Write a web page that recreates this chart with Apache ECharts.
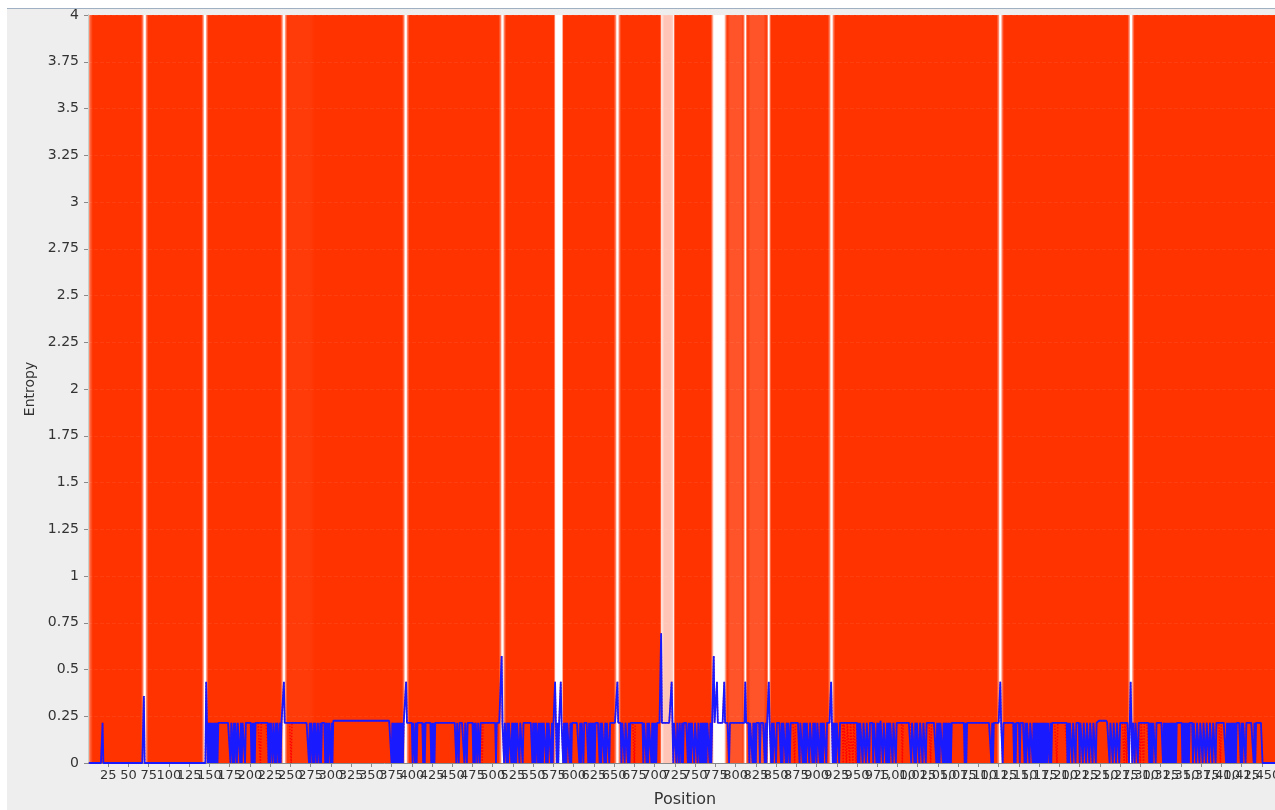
<!DOCTYPE html>
<html>
<head>
<meta charset="utf-8">
<script src="https://cdn.jsdelivr.net/npm/echarts@6/dist/echarts.min.js"></script>
<style>
html,body{margin:0;padding:0;background:#ffffff;}
#wrap{position:relative;width:1275px;height:810px;overflow:hidden;background:#ffffff;}
#panel{position:absolute;left:7px;top:8px;width:1268px;height:802px;background:#eeeeee;border-top:1px solid #9fb0c2;}
#c{position:absolute;left:0;top:0;width:1275px;height:810px;}
</style>
</head>
<body>
<div id="wrap"><div id="panel"></div><div id="c"></div></div>
<script>
// ---------------- data ----------------
const xTitle = 'Position';
const yTitle = 'Entropy';
const xMin = 0, xMax = 1475, xStep = 25;
const yMin = 0, yMax = 4, yStep = 0.25;

const lastPosition = 1475;          // positions plotted (picture is cut at ~1466)
const variableFrom = 147;           // base level starts after first spike
const variableTo = 1450;            // base level ends (zero afterwards)
const baseLevel = 0.215;
const raisedLevel = 0.226;

// isolated non-zero points in the leading zero region
const isolatedPoints = [[18, 0.215]];

// spikes [position, entropy]
const spikes = [
  [69, 0.358], [146, 0.434], [242, 0.434], [393, 0.434], [511, 0.572],
  [577, 0.434], [584, 0.434], [654, 0.434], [708, 0.694], [721, 0.434],
  [773, 0.572], [777, 0.434], [786, 0.434], [812, 0.434], [841, 0.434],
  [918, 0.434], [1127, 0.434], [1288, 0.434]
];

// runs at the slightly raised level [from, to]
const raisedRuns = [[303, 374], [978, 982], [1249, 1258]];

// positions where entropy falls to zero (blue line)
const dropsA = [148,150,152,154,156,158,160,176,179,181,184,188,190,194,202,204,206,223,225,228,231,233,236,238,
  273,275,278,280,283,286,288,293,295,297,300,302];
const dropsB = [375,377,379,381,383,385,387,389,401,404,406,414,416,424,426,428,455,458,465,468,476,478,481,484];
const dropsC = [504,514,517,519,523,525,527,529,533,537,549,551,553,556,558,560,562,566,568,572,574,579,581,587,589,
  591,595,597,607,609,612,618,620,622,624,626,632,634,638,640,644];
const dropsD = [659,663,667,669,686,690,692,696,698,700,702,723,727,730,733,735,741,743,745,749,753,756,758,760,762,764,768,770];
const dropsE = [792,817,821,823,825,830,836,838,844,846,850,856,858,862,864,867,879,883,885,887,891,895,897,900,904,906,
  908,912,920,922,924,928,951,953,957,961,965,970,974,976,978,982,986,988,990,994,998,1017,1021,1023,1027,1031,1035,1048];
const dropsF = [1050,1052,1056,1058,1060,1062,1064,1066,1083,1085,1116,1118,1130,1144,1146,1151,1157,1159,1163,1167,1169,
  1171,1173,1175,1177,1179,1181,1183,1185,1188,1190,1210,1212,1216,1220,1225,1229,1233,1237,1241,1245,1262,1266,1270,1274,
  1286,1290,1293,1297,1311,1313,1315,1319,1328,1330,1332,1334,1336,1338,1340,1342,1344,1352,1354,1356,1358,1360,1365,1369,
  1373,1377,1381,1385,1389,1393,1406,1408,1410,1412,1414,1416,1418,1424,1426,1430,1440,1442];

// extra zero positions only in the red dotted series
const redOnlyDrops = [213,251,487,675,873,933,937,941,945,949,1006,1041,1197,1280,1283,1300,1304,1399];

// background conservation stripes [centre position, span in positions, whiteness 0..1, plateau 0/1]
const stripes = [
  [0, 12, 0.55, 0],
  [70, 9, 1, 0], [144.5, 9, 1, 0], [242, 9, 0.95, 0],
  [262, 38, 0.04, 1],
  [392.5, 9, 1, 0], [512, 9, 1, 0], [581.5, 12, 1, 1], [654, 9, 1, 0],
  [716, 16, 0.72, 1], [709, 5, 0.9, 0], [723, 5, 0.9, 0],
  [779.5, 20, 1, 1], [800, 22, 0.16, 1], [812, 6, 1, 0], [826.5, 25, 0.16, 1], [841, 6, 1, 0],
  [918.5, 9, 1, 0], [1127, 9, 1, 0], [1288.5, 9, 1, 0]
];

// ---------------- build series from the data ----------------
const entropy = [];
for (let p = 1; p <= lastPosition; p++) {
  entropy[p] = (p >= variableFrom && p <= variableTo) ? baseLevel : 0;
}
raisedRuns.forEach(([a, b]) => { for (let p = a; p <= b; p++) entropy[p] = raisedLevel; });
isolatedPoints.forEach(([p, v]) => { entropy[p] = v; });
[dropsA, dropsB, dropsC, dropsD, dropsE, dropsF].forEach(list => list.forEach(p => { entropy[p] = 0; }));
spikes.forEach(([p, v]) => { entropy[p] = v; });

const blueData = [];
const redData = [];
const redZero = new Set(redOnlyDrops);
for (let p = 1; p <= lastPosition; p++) {
  blueData.push([p, entropy[p]]);
  redData.push([p, redZero.has(p) ? 0 : entropy[p]]);
}

const FONT = "'DejaVu Sans', 'Liberation Sans', Arial, sans-serif";
const chart = echarts.init(document.getElementById('c'), null, { renderer: 'canvas' });

function white(a) { return 'rgba(255,255,255,' + a + ')'; }

chart.setOption({
  animation: false,
  backgroundColor: 'transparent',
  grid: {
    left: 88, right: -7, top: 15, bottom: 47,
    show: true, backgroundColor: '#ff3300', borderWidth: 0,
    containLabel: false,
    outerBoundsMode: 'none'
  },
  xAxis: {
    type: 'value', min: xMin, max: xMax, interval: xStep,
    name: xTitle, nameLocation: 'middle', nameGap: 29,
    nameTextStyle: { fontFamily: FONT, fontSize: 16, color: '#333333' },
    axisLine: { show: true, lineStyle: { color: '#8a8a8a', width: 1 } },
    axisTick: { show: true, length: 4, lineStyle: { color: '#8a8a8a' } },
    axisLabel: {
      fontFamily: FONT, fontSize: 13, color: '#333333', margin: 6,
      showMinLabel: false, showMaxLabel: false, hideOverlap: false,
      formatter: v => Number(v).toLocaleString('en-US')
    },
    splitLine: { show: false }
  },
  yAxis: {
    type: 'value', min: yMin, max: yMax, interval: yStep,
    name: yTitle, nameLocation: 'middle', nameGap: 50,
    nameTextStyle: { fontFamily: FONT, fontSize: 14, color: '#333333' },
    axisLine: { show: true, lineStyle: { color: '#8a9a8a', width: 1 } },
    axisTick: { show: true, length: 4, lineStyle: { color: '#8a8a8a' } },
    axisLabel: { fontFamily: FONT, fontSize: 14, color: '#333333', margin: 9 },
    splitLine: { show: true, lineStyle: { color: 'rgba(255,255,255,0.06)', type: 'dashed', width: 1 } }
  },
  series: [
    {
      type: 'custom',
      name: 'conservation',
      coordinateSystem: 'cartesian2d',
      clip: true,
      silent: true,
      z: 1,
      data: stripes,
      encode: { x: 0 },
      renderItem: function (params, api) {
        const c = api.value(0), w = api.value(1), a = api.value(2), flat = api.value(3);
        const p0 = api.coord([c - w / 2, yMax]);
        const p1 = api.coord([c + w / 2, yMin]);
        const stops = flat
          ? [{ offset: 0, color: white(0) }, { offset: 0.18, color: white(a) }, { offset: 0.82, color: white(a) }, { offset: 1, color: white(0) }]
          : [{ offset: 0, color: white(0) }, { offset: 0.25, color: white(a * 0.4) }, { offset: 0.42, color: white(a) }, { offset: 0.58, color: white(a) }, { offset: 0.75, color: white(a * 0.4) }, { offset: 1, color: white(0) }];
        return {
          type: 'rect',
          shape: { x: p0[0], y: p0[1], width: p1[0] - p0[0], height: p1[1] - p0[1] },
          style: { fill: new echarts.graphic.LinearGradient(0, 0, 1, 0, stops) }
        };
      }
    },
    {
      type: 'line', name: 'entropy2', data: redData, z: 2,
      showSymbol: false, symbol: 'none', sampling: null, silent: true,
      lineStyle: { color: '#ff0000', width: 1.5, type: 'dotted' }
    },
    {
      type: 'line', name: 'entropy', data: blueData, z: 3,
      showSymbol: false, symbol: 'none', sampling: null, silent: true,
      lineStyle: { color: '#1a1aff', width: 1.8 }
    }
  ]
});
</script>
</body>
</html>
